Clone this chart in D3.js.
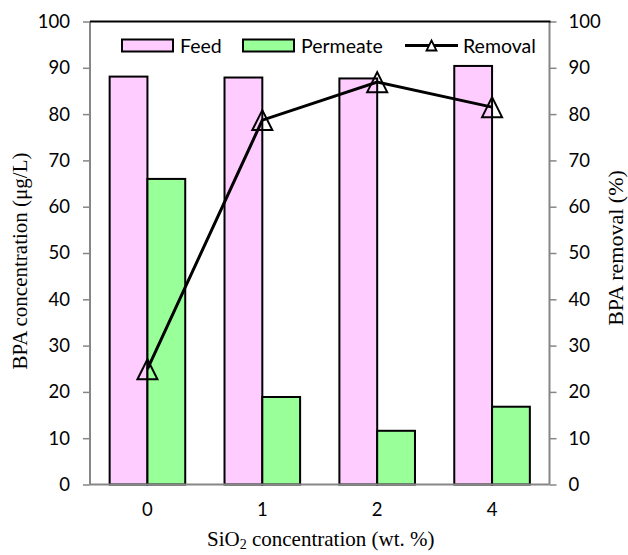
<!DOCTYPE html>
<html><head><meta charset="utf-8">
<script src="https://cdn.jsdelivr.net/npm/d3@7"></script>
<style>
body{margin:0;background:#fff;}
svg{display:block;}
</style></head>
<body>
<script>
const categories = ["0","1","2","4"];
const feed = [88.1, 87.9, 87.7, 90.4];
const permeate = [66.0, 18.9, 11.6, 16.8];
const removal = [24.9, 78.7, 86.9, 81.5];
const yTicks = [0,10,20,30,40,50,60,70,80,90,100];

const W = 628, H = 555;
const m = {left: 90, right: 549.5, top: 21.5, bottom: 484.5};
const svg = d3.select("body").append("svg").attr("width", W).attr("height", H);

const x = d3.scaleBand().domain(categories).range([m.left, m.right]).paddingInner(0).paddingOuter(0);
const y = d3.scaleLinear().domain([0,100]).range([m.bottom, m.top]);
const y2 = d3.scaleLinear().domain([0,100]).range([m.bottom, m.top]);
const barW = x.bandwidth() * 0.329;
const gap = (x.bandwidth() - 2*barW)/2;

const grey = "#868686";
const font = "Lato, 'Open Sans', sans-serif";

// bars
const g = svg.append("g");
g.selectAll(".feed").data(categories).join("rect")
  .attr("x", d => x(d) + gap).attr("width", barW)
  .attr("y", (d,i) => y(feed[i])).attr("height", (d,i) => y(0) - y(feed[i]))
  .attr("fill", "#FFCCFF").attr("stroke", "#000").attr("stroke-width", 2);
g.selectAll(".perm").data(categories).join("rect")
  .attr("x", d => x(d) + gap + barW).attr("width", barW)
  .attr("y", (d,i) => y(permeate[i])).attr("height", (d,i) => y(0) - y(permeate[i]))
  .attr("fill", "#99FF99").attr("stroke", "#000").attr("stroke-width", 2);

// axes
const leftAxis = svg.append("g").attr("transform", `translate(${m.left},0)`)
  .call(d3.axisLeft(y).tickValues(yTicks).tickSize(7).tickPadding(13));
const rightAxis = svg.append("g").attr("transform", `translate(${m.right},0)`)
  .call(d3.axisRight(y2).tickValues(yTicks).tickSize(7).tickPadding(12));
[leftAxis, rightAxis].forEach(a => {
  a.select(".domain").remove();
  a.selectAll(".tick line").attr("stroke", grey).attr("stroke-width", 1.5);
  a.selectAll(".tick text").attr("font-size", 18.5).attr("fill", "#000").attr("font-family", font);
});
svg.append("line").attr("x1", m.left).attr("x2", m.left).attr("y1", m.top).attr("y2", m.bottom).attr("stroke", grey).attr("stroke-width", 2);
svg.append("line").attr("x1", m.right).attr("x2", m.right).attr("y1", m.top).attr("y2", m.bottom).attr("stroke", grey).attr("stroke-width", 2);
const bottomAxis = svg.append("g").attr("transform", `translate(0,${m.bottom})`)
  .call(d3.axisBottom(x).tickSize(0).tickPadding(18));
bottomAxis.select(".domain").remove();
bottomAxis.selectAll(".tick text").attr("font-size", 18.5).attr("fill", "#000").attr("font-family", font);
svg.append("line").attr("x1", m.left).attr("x2", m.right).attr("y1", m.bottom).attr("y2", m.bottom).attr("stroke", grey).attr("stroke-width", 2);
svg.append("line").attr("x1", m.left).attr("x2", m.right + 1).attr("y1", m.top).attr("y2", m.top).attr("stroke", "#000").attr("stroke-width", 2);

// removal line
const cx = d => x(d) + x.bandwidth()/2;
const line = d3.line().x((d,i) => cx(categories[i])).y(d => y2(d));
svg.append("path").datum(removal).attr("d", line).attr("fill", "none").attr("stroke", "#000").attr("stroke-width", 3);
const tri = (s) => `M0,${-s*0.5}L${s*0.5},${s*0.5}L${-s*0.5},${s*0.5}Z`;
svg.selectAll(".tri").data(removal).join("path")
  .attr("transform", (d,i) => `translate(${cx(categories[i])},${y2(d)})`)
  .attr("d", tri(20)).attr("fill", "none").attr("stroke", "#000").attr("stroke-width", 2);

// legend
const lg = svg.append("g").attr("font-family", font).attr("font-size", 19.5);
lg.append("rect").attr("x", 122).attr("y", 39.5).attr("width", 51).attr("height", 12).attr("fill", "#FFCCFF").attr("stroke", "#000").attr("stroke-width", 2);
lg.append("text").attr("x", 180).attr("y", 52.5).text("Feed");
lg.append("rect").attr("x", 243).attr("y", 39.5).attr("width", 51).attr("height", 12).attr("fill", "#99FF99").attr("stroke", "#000").attr("stroke-width", 2);
lg.append("text").attr("x", 301).attr("y", 52.5).text("Permeate");
lg.append("line").attr("x1", 405).attr("x2", 458).attr("y1", 45.5).attr("y2", 45.5).attr("stroke", "#000").attr("stroke-width", 3);
lg.append("path").attr("transform", "translate(431.5,45.5)").attr("d", tri(10)).attr("fill", "#fff").attr("stroke", "#000").attr("stroke-width", 1.8);
lg.append("text").attr("x", 463).attr("y", 52.5).text("Removal");

// axis titles
const serif = "'Liberation Serif', 'Times New Roman', serif";
svg.append("text").attr("transform", `translate(27,${(m.top+m.bottom)/2 + 8}) rotate(-90)`)
  .attr("text-anchor", "middle").attr("font-family", serif).attr("font-size", 21).text("BPA concentration (μg/L)");
svg.append("text").attr("transform", `translate(623,${248}) rotate(-90)`)
  .attr("text-anchor", "middle").attr("font-family", serif).attr("font-size", 22).text("BPA removal (%)");
const xt = svg.append("text").attr("x", (m.left+m.right)/2 + 1).attr("y", 546)
  .attr("text-anchor", "middle").attr("font-family", serif).attr("font-size", 21);
xt.append("tspan").text("SiO");
xt.append("tspan").attr("font-size", 14).attr("dy", 3).text("2");
xt.append("tspan").attr("dy", -3).text(" concentration (wt. %)");
</script>
</body></html>
